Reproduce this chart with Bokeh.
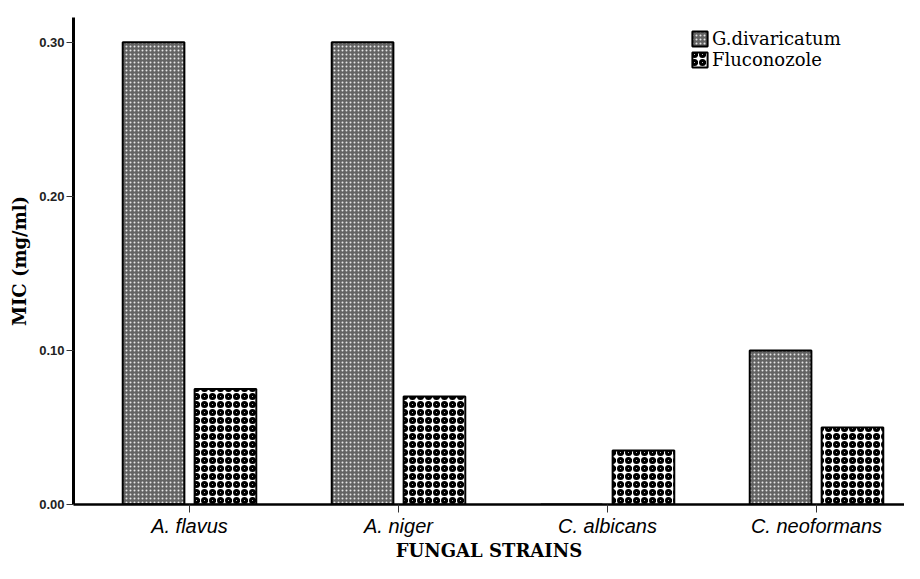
from bokeh.plotting import figure
from bokeh.models import (ColumnDataSource, Range1d, FixedTicker, NumeralTickFormatter,
                          Legend, LegendItem)
from bokeh.transform import dodge
from bokeh.embed import file_html
from bokeh.resources import INLINE

categories = ["A. flavus", "A. niger", "C. albicans", "C. neoformans"]
g_divaricatum = [0.30, 0.30, 0.0, 0.10]
fluconozole = [0.075, 0.070, 0.035, 0.050]
y_ticks = [0.0, 0.1, 0.2, 0.3]

idx = list(range(len(categories)))
src = ColumnDataSource(dict(idx=idx, g=g_divaricatum, f=fluconozole))

p = figure(width=904, height=563, output_backend="svg", toolbar_location=None,
           x_range=Range1d(-0.555, 3.421), y_range=Range1d(0, 0.316),
           min_border_left=73, min_border_top=17, min_border_right=0, min_border_bottom=55)
p.outline_line_color = None
p.xgrid.visible = False
p.ygrid.visible = False
p.background_fill_color = "white"

r1 = p.vbar(x=dodge("idx", -0.172, range=p.x_range), top="g", width=0.295, source=src,
            fill_color="#636363", line_color="black", line_width=2,
            hatch_pattern="dot", hatch_color="#e6e6e6", hatch_scale=4, hatch_weight=0.5)
r2 = p.vbar(x=dodge("idx", 0.172, range=p.x_range), top="f", width=0.295, source=src,
            fill_color="white", line_color="black", line_width=2,
            hatch_pattern="ring", hatch_color="black", hatch_scale=8, hatch_weight=3)

legend = Legend(items=[LegendItem(label="G.divaricatum", renderers=[r1]),
                       LegendItem(label="Fluconozole", renderers=[r2])],
                location=(617, 434), padding=0, spacing=0, margin=0,
                glyph_width=19, glyph_height=19, label_height=19, label_standoff=3,
                border_line_color=None, background_fill_alpha=0,
                label_text_font="DejaVu Serif", label_text_font_size="18px",
                label_text_color="black")
p.add_layout(legend)

# x axis
xa = p.xaxis[0]
xa.ticker = FixedTicker(ticks=idx)
xa.major_label_overrides = {i: c for i, c in zip(idx, categories)}
xa.axis_line_width = 2.5
xa.axis_line_color = "black"
xa.major_tick_in = 0
xa.major_tick_out = 8
xa.major_tick_line_color = "#333333"
xa.major_tick_line_width = 1
xa.minor_tick_line_color = None
xa.major_label_text_font = "Liberation Sans"
xa.major_label_text_font_style = "italic"
xa.major_label_text_font_size = "20px"
xa.major_label_text_color = "black"
xa.major_label_standoff = 2
xa.axis_label = "FUNGAL STRAINS"
xa.axis_label_text_font = "DejaVu Serif"
xa.axis_label_text_font_style = "bold"
xa.axis_label_text_font_size = "18px"
xa.axis_label_text_color = "black"
xa.axis_label_standoff = 0

# y axis
ya = p.yaxis[0]
ya.ticker = FixedTicker(ticks=y_ticks)
ya.formatter = NumeralTickFormatter(format="0.00")
ya.axis_line_width = 3
ya.axis_line_color = "black"
ya.major_tick_in = 0
ya.major_tick_out = 7
ya.major_tick_line_color = "#333333"
ya.major_tick_line_width = 1
ya.minor_tick_line_color = None
ya.major_label_text_font = "Liberation Sans"
ya.major_label_text_font_style = "bold"
ya.major_label_text_font_size = "13px"
ya.major_label_text_color = "#222222"
ya.major_label_standoff = 2
ya.axis_label = "MIC (mg/ml)"
ya.axis_label_text_font = "DejaVu Serif"
ya.axis_label_text_font_style = "bold"
ya.axis_label_text_font_size = "18px"
ya.axis_label_text_color = "black"
ya.axis_label_standoff = 6

open("out.html", "w").write(file_html(p, INLINE))
